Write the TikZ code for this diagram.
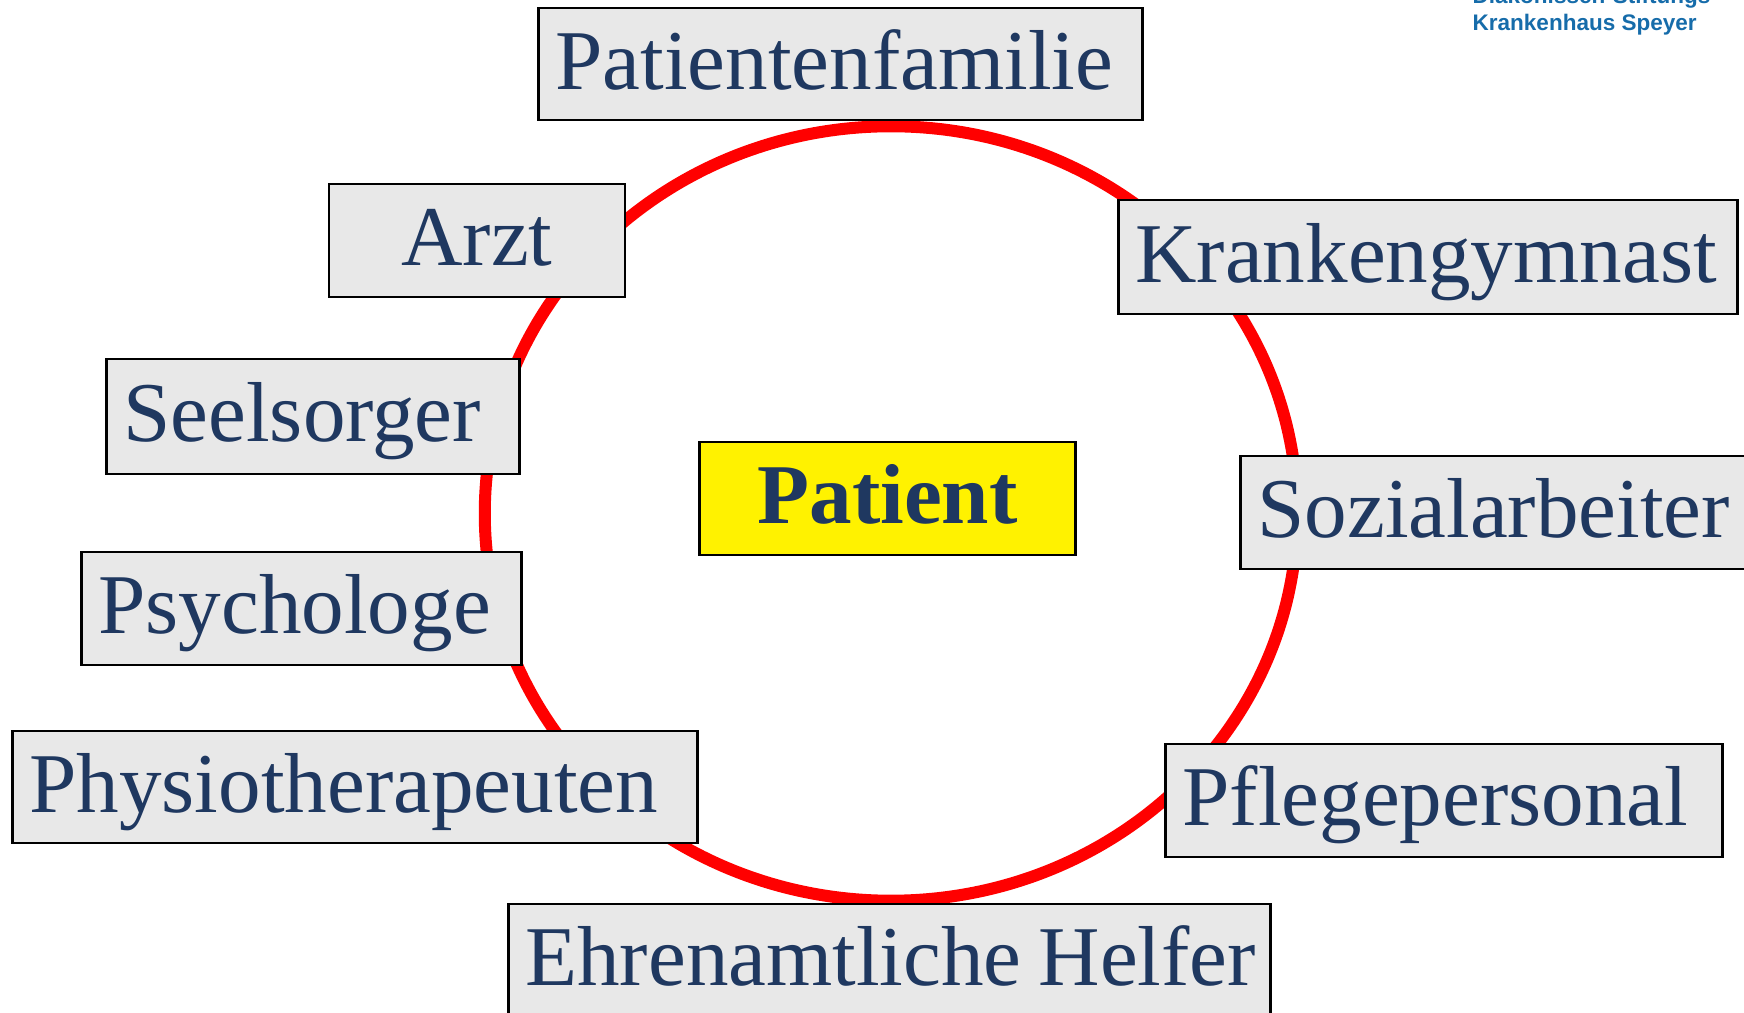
\documentclass[tikz,border=0pt]{standalone}
\usepackage{fontspec}
\setmainfont{Liberation Serif}
\newfontfamily\logofont{Liberation Sans}
\usepackage{tikz}
\usetikzlibrary{positioning}
\usepackage{xcolor}
\definecolor{txtblue}{RGB}{31,56,96}
\definecolor{boxgray}{RGB}{232,232,232}
\definecolor{logoblue}{RGB}{22,108,170}

\begin{document}
\begin{tikzpicture}[x=0.01cm, y=-0.01cm,
    role/.style={rectangle, draw=black, line width=0.8pt, fill=boxgray, text=txtblue,
        font=\fontsize{24.2}{29}\selectfont, inner xsep=0.17cm, inner ysep=0pt,
        text height=0.62cm, text depth=0.12cm, align=left, anchor=west},
    core/.style={role, fill=yellow, align=center, anchor=center, font=\fontsize{24.2}{29}\selectfont\bfseries},
    logo/.style={text=logoblue, font=\logofont\fontsize{6.4}{8}\selectfont\bfseries, inner sep=0pt, anchor=base west}
]
\useasboundingbox (0,0) rectangle (1744,1013);
\clip (0,0) rectangle (1744,1013);

% ring round the patient
\draw[red, line width=0.12cm] (891,513.5) ellipse [x radius=4.06cm, y radius=3.87cm];

\node[logo] (logotop) at (1472,4) {Diakonissen-Stiftungs};
\node[logo] (logobot) at (1472,31) {Krankenhaus Speyer};

\node[core, text width=3.41cm, minimum height=1.13cm] (patient) at (887.5,498.5) {Patient};

\node[role, text width=5.70cm, minimum height=1.12cm] (familie) at (537,64) {Patientenfamilie};
\node[role, align=center, anchor=center, text width=2.62cm, minimum height=1.13cm] (arzt) at (477,240.5) {Arzt};
\node[role, text width=5.85cm, minimum height=1.14cm] (kgym) at (1117,257) {Krankengymnast};
\node[role, text width=3.79cm, minimum height=1.15cm] (seelsorger) at (105,416.5) {Seelsorger};
\node[role, text width=4.96cm, minimum height=1.13cm] (sozial) at (1239,512.5) {Sozialarbeiter};
\node[role, text width=4.06cm, minimum height=1.13cm] (psycho) at (80,608.5) {Psychologe};
\node[role, text width=6.51cm, minimum height=1.12cm] (physio) at (11,787) {Physiotherapeuten};
\node[role, text width=5.23cm, minimum height=1.13cm] (pflege) at (1164,800.5) {Pflegepersonal};
\node[role, text width=7.28cm, minimum height=1.12cm] (helfer) at (507,960) {\mbox{\spaceskip=0.2em\relax Ehrenamtliche Helfer}};
\end{tikzpicture}
\end{document}
